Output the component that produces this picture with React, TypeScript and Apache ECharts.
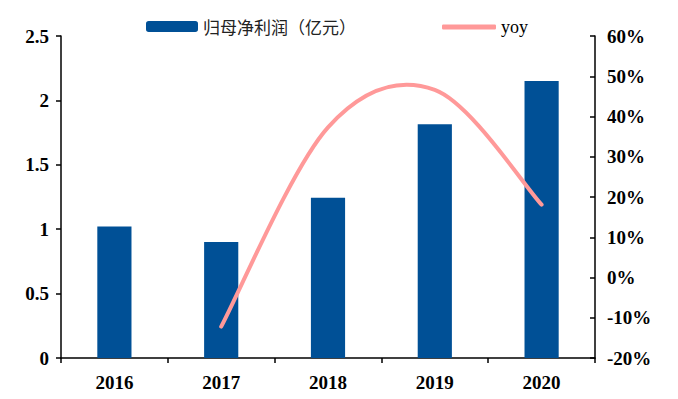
import React, { useEffect, useRef } from "react";
import * as echarts from "echarts";

const years = ["2016", "2017", "2018", "2019", "2020"];
const profit = [1.02, 0.9, 1.245, 1.815, 2.15];
const yoy = [null, -12.2, 37.3, 46.6, 18.1];
const leftTicks = { min: 0, max: 2.5, interval: 0.5 };
const rightTicks = { min: -20, max: 60, interval: 10 };

const BAR_NAME = "归母净利润（亿元）";
const LINE_NAME = "yoy";
const SERIF = "'Liberation Serif', 'Times New Roman', serif";
const LINE_COLOR = "#FF9999";

const yoyData = yoy
  .map((v, i) => (v === null ? null : [i, v]))
  .filter((d) => d !== null) as number[][];

export default function App() {
  const ref = useRef<HTMLDivElement>(null);
  useEffect(() => {
    if (!ref.current) return;
    const chart = echarts.init(ref.current, null, { renderer: "svg" });
    const axisLabel = { color: "#000", fontFamily: SERIF, fontWeight: "bold", fontSize: 19 };
    chart.setOption({
      animation: false,
      backgroundColor: "#fff",
      legend: [
        {
          data: [BAR_NAME],
          left: 141,
          top: 13,
          itemWidth: 52,
          itemHeight: 11,
          itemGap: 8,
          textStyle: { fontFamily: "'Noto Sans CJK SC'", fontSize: 17, color: "#222" },
        },
        {
          data: [{ name: LINE_NAME, icon: "roundRect", itemStyle: { color: LINE_COLOR } }],
          left: 437,
          top: 13,
          itemWidth: 54,
          itemHeight: 5,
          itemGap: 4,
          textStyle: { fontFamily: SERIF, fontSize: 18, color: "#000" },
        },
      ],
      grid: { left: 61, right: 83, top: 36, bottom: 41, containLabel: false },
      xAxis: {
        type: "category",
        data: years,
        boundaryGap: true,
        axisLine: { lineStyle: { color: "#000", width: 1.5 } },
        axisTick: { show: true, length: 5, lineStyle: { color: "#000", width: 1.5 } },
        axisLabel: { ...axisLabel, margin: 15 },
      },
      yAxis: [
        {
          type: "value",
          ...leftTicks,
          splitLine: { show: false },
          axisLine: { show: true, lineStyle: { color: "#000", width: 1.5 } },
          axisTick: { show: true, length: 5, lineStyle: { color: "#000", width: 1.5 } },
          axisLabel: { ...axisLabel, margin: 12 },
        },
        {
          type: "value",
          position: "right",
          ...rightTicks,
          splitLine: { show: false },
          axisLine: { show: true, lineStyle: { color: "#000", width: 1.5 } },
          axisTick: { show: true, inside: true, length: 5, lineStyle: { color: "#000", width: 1.5 } },
          axisLabel: { ...axisLabel, margin: 12, formatter: (v: number) => `${v}%` },
        },
      ],
      series: [
        {
          name: BAR_NAME,
          type: "bar",
          data: profit,
          barWidth: "32%",
          z: 2,
          itemStyle: { color: "#005096" },
        },
        {
          name: LINE_NAME,
          type: "custom",
          yAxisIndex: 1,
          data: yoyData,
          encode: { x: 0, y: 1 },
          itemStyle: { color: LINE_COLOR },
          clip: false,
          z: 10,
          renderItem: (params: any, api: any) => {
            if (params.dataIndex !== 0) return null;
            const pts = yoyData.map((d) => api.coord(d));
            const n = pts.length;
            let dStr = `M${pts[0][0]},${pts[0][1]}`;
            for (let i = 0; i < n - 1; i++) {
              const p0 = pts[Math.max(i - 1, 0)];
              const p1 = pts[i];
              const p2 = pts[i + 1];
              const p3 = pts[Math.min(i + 2, n - 1)];
              const c1x = p1[0] + (p2[0] - p0[0]) / 6;
              const c1y = p1[1] + (p2[1] - p0[1]) / 6;
              const c2x = p2[0] - (p3[0] - p1[0]) / 6;
              const c2y = p2[1] - (p3[1] - p1[1]) / 6;
              dStr += ` C${c1x},${c1y} ${c2x},${c2y} ${p2[0]},${p2[1]}`;
            }
            return {
              type: "path",
              z2: 100,
              shape: { pathData: dStr },
              style: { stroke: LINE_COLOR, fill: "none", lineWidth: 4, lineCap: "round", lineJoin: "round" },
            };
          },
        },
      ],
    });
    return () => chart.dispose();
  }, []);
  return <div ref={ref} style={{ width: 678, height: 399, position: "absolute", left: 0, top: 0 }} />;
}
